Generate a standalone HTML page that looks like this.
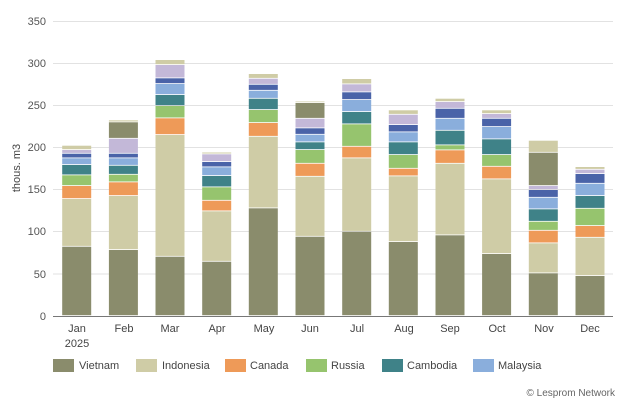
<!DOCTYPE html>
<html><head><meta charset="utf-8"><style>
html,body{margin:0;padding:0;background:#fff;}
svg{display:block;font-family:"Liberation Sans",sans-serif;}
</style></head><body>
<svg id="s" width="624" height="408" viewBox="0 0 624 408">
<g stroke="#e2e2e2" stroke-width="1">
<line x1="53" x2="613" y1="21.5" y2="21.5"/><line x1="53" x2="613" y1="63.5" y2="63.5"/>
<line x1="53" x2="613" y1="105.5" y2="105.5"/><line x1="53" x2="613" y1="147.5" y2="147.5"/>
<line x1="53" x2="613" y1="189.5" y2="189.5"/><line x1="53" x2="613" y1="231.5" y2="231.5"/>
<line x1="53" x2="613" y1="274" y2="274"/>
</g>
<g font-size="11" fill="#555" text-anchor="end">
<text x="46" y="25">350</text><text x="46" y="67">300</text><text x="46" y="109">250</text>
<text x="46" y="151">200</text><text x="46" y="193">150</text><text x="46" y="235">100</text>
<text x="46" y="278">50</text><text x="46" y="320">0</text>
</g>
<text transform="translate(20,168) rotate(-90)" font-size="11" fill="#444" text-anchor="middle">thous. m3</text>
<g id="bars"></g>
<line x1="53" x2="613" y1="316.5" y2="316.5" stroke="#777" stroke-width="1"/>
<g font-size="11" fill="#444" text-anchor="middle">
<text x="77" y="332">Jan</text><text x="77" y="347">2025</text>
<text x="124" y="332">Feb</text><text x="170" y="332">Mar</text><text x="217" y="332">Apr</text>
<text x="264" y="332">May</text><text x="310" y="332">Jun</text><text x="357" y="332">Jul</text>
<text x="404" y="332">Aug</text><text x="450" y="332">Sep</text><text x="497" y="332">Oct</text>
<text x="544" y="332">Nov</text><text x="590" y="332">Dec</text>
</g>
<g font-size="11" fill="#444">
<rect x="53" y="359" width="21" height="13" fill="#8a8c6c"/><text x="79" y="369">Vietnam</text>
<rect x="136" y="359" width="21" height="13" fill="#cfcca6"/><text x="162" y="369">Indonesia</text>
<rect x="225" y="359" width="21" height="13" fill="#ee9a58"/><text x="250" y="369">Canada</text>
<rect x="306" y="359" width="21" height="13" fill="#96c46e"/><text x="331" y="369">Russia</text>
<rect x="382" y="359" width="21" height="13" fill="#3f8288"/><text x="407" y="369">Cambodia</text>
<rect x="473" y="359" width="21" height="13" fill="#8aaedc"/><text x="498" y="369">Malaysia</text>
</g>
<text x="615" y="396" font-size="10" fill="#666" text-anchor="end">© Lesprom Network</text>
</svg>
<script>
var C={V:"#8a8c6c",I:"#cfcca6",O:"#ee9a58",G:"#96c46e",T:"#3f8288",L:"#8aaedc",D:"#4a63a8",P:"#c3b8d8",K:"#8a8c6c",B:"#cfcca6"};
var data=[
[["V",246.7],["I",199],["O",186],["G",175.3],["T",165],["L",158.3],["D",153.7],["P",150],["B",145.7]],
[["V",250],["I",196],["O",182.3],["G",174.7],["T",165.7],["L",158.3],["D",153.7],["P",138.7],["K",122.3],["B",120.3]],
[["V",256.7],["I",135],["O",118.3],["G",106],["T",95],["L",84],["D",78.3],["P",65],["B",60]],
[["V",261.7],["I",211.3],["O",200.7],["G",187.3],["T",176],["L",167.3],["D",162],["P",154.3],["B",152.5]],
[["V",208.3],["I",136.7],["O",123],["G",110],["T",98.7],["L",90.7],["D",84.7],["P",78.7],["B",74]],
[["V",236.7],["I",176.7],["O",163.7],["G",150],["T",142.3],["L",134.7],["D",128.3],["P",118.7],["K",103],["B",101.5]],
[["V",231.7],["I",158.3],["O",146.7],["G",124.3],["T",112],["L",100],["D",92.3],["P",84.3],["B",79]],
[["V",242],["I",176.3],["O",168.7],["G",155],["T",142.3],["L",132.3],["D",125],["P",114.7],["B",110.3]],
[["V",235.3],["I",163.7],["O",150.3],["G",145.3],["T",130.7],["L",118.7],["D",108.7],["P",102],["B",98.7]],
[["V",254],["I",179.3],["O",166.7],["G",155],["T",139.3],["L",127],["D",118.7],["P",114],["B",110.3]],
[["V",273.3],["I",243.3],["O",230.7],["G",221.7],["T",209.3],["L",197.7],["D",190],["P",186],["K",152.7],["B",140.7]],
[["V",276],["I",237.7],["O",226],["G",208.7],["T",196],["L",183.7],["D",174],["P",169.7],["B",167]]
];
var g=document.getElementById("bars"),h="";
data.forEach(function(b,i){
 var cx=76.7+i*46.66,x=cx-14.5,bot=316;
 b.forEach(function(s){
  var top=s[1],hh=bot-top-0.8; if(hh<0.6)hh=0.6;
  h+='<rect x="'+x.toFixed(1)+'" y="'+top+'" width="29" height="'+hh.toFixed(1)+'" fill="'+C[s[0]]+'"/>';
  bot=top;
 });
});
g.innerHTML=h;
</script>
</body></html>
